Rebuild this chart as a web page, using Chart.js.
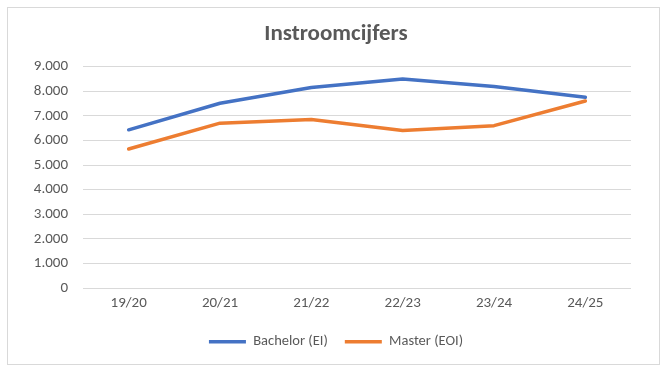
<!DOCTYPE html>
<html>
<head>
<meta charset="utf-8">
<script src="https://cdn.jsdelivr.net/npm/chart.js@4/dist/chart.umd.min.js"></script>
<style>
  html, body { margin: 0; padding: 0; background: #ffffff; }
  #c { display: block; }
</style>
</head>
<body>
<canvas id="c" width="672" height="382"></canvas>
<script>
const categories = ['19/20', '20/21', '21/22', '22/23', '23/24', '24/25'];
const bachelor = [6430, 7510, 8150, 8500, 8190, 7750];
const master = [5650, 6700, 6850, 6400, 6600, 7600];
const seriesNames = ['Bachelor (EI)', 'Master (EOI)'];
const chartTitle = 'Instroomcijfers';

const FONT = 'Carlito, Calibri, Lato, sans-serif';
const GREY = '#595959';

const frame = {
  id: 'frame',
  beforeDraw(chart) {
    const ctx = chart.ctx;
    ctx.save();
    ctx.fillStyle = '#ffffff';
    ctx.fillRect(0, 0, chart.width, chart.height);
    ctx.strokeStyle = '#d9d9d9';
    ctx.lineWidth = 1;
    ctx.strokeRect(7.5, 7.5, 652, 357);
    ctx.restore();
  }
};

function fmt(v) {
  return String(v).replace(/\B(?=(\d{3})+(?!\d))/g, '.');
}

new Chart(document.getElementById('c'), {
  type: 'line',
  data: {
    labels: categories,
    datasets: [
      { label: seriesNames[0], data: bachelor, borderColor: '#4472C4', backgroundColor: '#4472C4',
        borderWidth: 3.5, pointRadius: 0, tension: 0, borderCapStyle: 'round', borderJoinStyle: 'round' },
      { label: seriesNames[1], data: master, borderColor: '#ED7D31', backgroundColor: '#ED7D31',
        borderWidth: 3.5, pointRadius: 0, tension: 0, borderCapStyle: 'round', borderJoinStyle: 'round' }
    ]
  },
  options: {
    responsive: false,
    animation: false,
    layout: { padding: { left: 0, right: 0, top: 0, bottom: 23 } },
    plugins: {
      title: {
        display: true, text: chartTitle, color: GREY,
        font: { family: FONT, size: 23, weight: 'bold' },
        padding: { top: 20, bottom: 19 }
      },
      legend: {
        position: 'bottom',
        labels: {
          color: GREY, font: { family: FONT, size: 14.5 },
          usePointStyle: true, pointStyle: 'line', pointStyleWidth: 37,
          padding: 17
        }
      },
      tooltip: { enabled: false }
    },
    scales: {
      x: {
        offset: true,
        grid: { display: false, drawTicks: false },
        border: { display: false },
        ticks: { color: GREY, font: { family: FONT, size: 15 }, padding: 6 },
        afterFit(s) { s.height = 29.5; }
      },
      y: {
        min: 0, max: 9000,
        grid: { color: '#d9d9d9', drawTicks: false },
        border: { display: false },
        ticks: { stepSize: 1000, color: GREY, font: { family: FONT, size: 15 }, padding: 15,
                 callback: v => fmt(v) },
        afterFit(s) { s.width = 83; }
      },
      yRight: {
        type: 'linear',
        position: 'right',
        min: 0, max: 9000,
        grid: { display: false, drawTicks: false },
        border: { display: false },
        ticks: { display: false },
        afterFit(s) { s.width = 41; }
      }
    }
  },
  plugins: [frame]
});
</script>
</body>
</html>
